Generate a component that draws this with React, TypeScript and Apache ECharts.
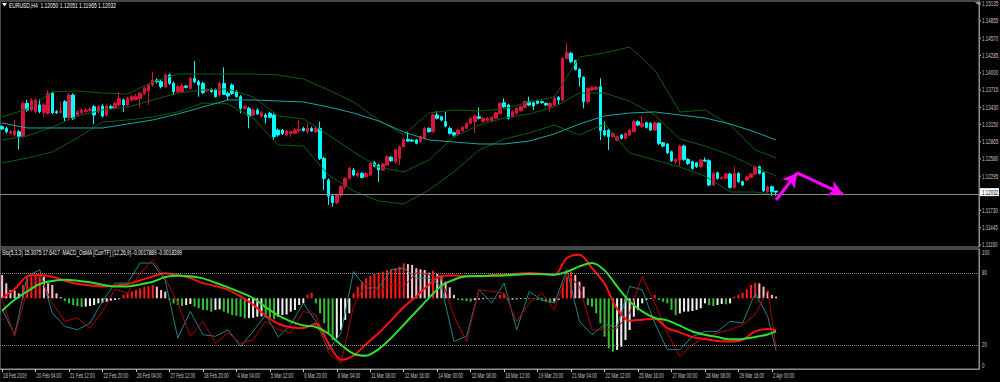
import React, { useEffect, useRef } from 'react';
import * as echarts from 'echarts';

// ---------- DATA ----------
// candles: [open, high, low, close], H4 bars from 18 Feb 2019
const ohlc: number[][] = [
  [1.13111, 1.13138, 1.13056, 1.13072], [1.13083, 1.13111, 1.13001, 1.13028], [1.13001, 1.13056, 1.12990, 1.13028],
  [1.12974, 1.13221, 1.12946, 1.13045], [1.13028, 1.13056, 1.12737, 1.12946], [1.12946, 1.13524, 1.12930, 1.13496],
  [1.13496, 1.13551, 1.13360, 1.13386], [1.13386, 1.13578, 1.13360, 1.13551], [1.13360, 1.13578, 1.13331, 1.13551],
  [1.13469, 1.13562, 1.13331, 1.13360], [1.13342, 1.13497, 1.13276, 1.13469], [1.13331, 1.13716, 1.13310, 1.13661],
  [1.13661, 1.13690, 1.13320, 1.13342], [1.13358, 1.13386, 1.13320, 1.13342], [1.13347, 1.13524, 1.13331, 1.13369],
  [1.13524, 1.13551, 1.13194, 1.13265], [1.13265, 1.13661, 1.13221, 1.13634], [1.13634, 1.13661, 1.13221, 1.13249],
  [1.13303, 1.13386, 1.13276, 1.13358], [1.13342, 1.13414, 1.13320, 1.13386], [1.13358, 1.13414, 1.13347, 1.13386],
  [1.13375, 1.13430, 1.13360, 1.13397], [1.13441, 1.13469, 1.13155, 1.13303], [1.13358, 1.13469, 1.13331, 1.13441],
  [1.13452, 1.13480, 1.13265, 1.13287], [1.13303, 1.13480, 1.13276, 1.13452], [1.13441, 1.13469, 1.13397, 1.13414],
  [1.13414, 1.13524, 1.13397, 1.13496], [1.13469, 1.13689, 1.13441, 1.13578], [1.13551, 1.13578, 1.13358, 1.13469],
  [1.13469, 1.13606, 1.13441, 1.13578], [1.13551, 1.13634, 1.13524, 1.13606], [1.13562, 1.13650, 1.13541, 1.13606],
  [1.13578, 1.13689, 1.13441, 1.13661], [1.13661, 1.13771, 1.13634, 1.13744], [1.13705, 1.13826, 1.13469, 1.13799],
  [1.13799, 1.14018, 1.13771, 1.13881], [1.13881, 1.13908, 1.13826, 1.13854], [1.13854, 1.13881, 1.13744, 1.13771],
  [1.13771, 1.13991, 1.13744, 1.13964], [1.13964, 1.13991, 1.13799, 1.13826], [1.13826, 1.13854, 1.13634, 1.13689],
  [1.13689, 1.13799, 1.13661, 1.13771], [1.13689, 1.13826, 1.13661, 1.13782], [1.13782, 1.13799, 1.13744, 1.13760],
  [1.13744, 1.13936, 1.13716, 1.13908], [1.13908, 1.14195, 1.13826, 1.13854], [1.13854, 1.13881, 1.13606, 1.13799],
  [1.13826, 1.13854, 1.13650, 1.13672], [1.13705, 1.13744, 1.13689, 1.13727], [1.13727, 1.13744, 1.13672, 1.13689],
  [1.13716, 1.13744, 1.13590, 1.13606], [1.13634, 1.13854, 1.13606, 1.13826], [1.13826, 1.14090, 1.13634, 1.13645],
  [1.13661, 1.13689, 1.13551, 1.13617], [1.13799, 1.13826, 1.13634, 1.13661], [1.13689, 1.13716, 1.13590, 1.13606],
  [1.13606, 1.13634, 1.13331, 1.13414], [1.13414, 1.13469, 1.13397, 1.13441], [1.13414, 1.13441, 1.13083, 1.13287],
  [1.13303, 1.13414, 1.13287, 1.13386], [1.13386, 1.13414, 1.13303, 1.13320], [1.13287, 1.13369, 1.13265, 1.13342],
  [1.13303, 1.13331, 1.13166, 1.13265], [1.13331, 1.13358, 1.13249, 1.13265], [1.13303, 1.13331, 1.12891, 1.12946],
  [1.13056, 1.13083, 1.12946, 1.12974], [1.13056, 1.13072, 1.12974, 1.13001], [1.12974, 1.13056, 1.12946, 1.13039],
  [1.13001, 1.13045, 1.12946, 1.13028], [1.13001, 1.13083, 1.12990, 1.13056], [1.13045, 1.13221, 1.13028, 1.13067],
  [1.13083, 1.13111, 1.13028, 1.13045], [1.13028, 1.13166, 1.13001, 1.13083], [1.13083, 1.13111, 1.13028, 1.13039],
  [1.13028, 1.13111, 1.13001, 1.13083], [1.13083, 1.13194, 1.12561, 1.12588], [1.12588, 1.12616, 1.12066, 1.12259],
  [1.12231, 1.12259, 1.11820, 1.11967], [1.11967, 1.11990, 1.11791, 1.11857], [1.11857, 1.12010, 1.11830, 1.11984],
  [1.11984, 1.12150, 1.11940, 1.12121], [1.12121, 1.12280, 1.12080, 1.12258], [1.12258, 1.12451, 1.12240, 1.12423],
  [1.12396, 1.12430, 1.12290, 1.12313], [1.12300, 1.12370, 1.12286, 1.12341], [1.12341, 1.12360, 1.12258, 1.12275],
  [1.12286, 1.12360, 1.12270, 1.12341], [1.12313, 1.12534, 1.12300, 1.12506], [1.12517, 1.12545, 1.12440, 1.12462],
  [1.12479, 1.12500, 1.12203, 1.12396], [1.12396, 1.12517, 1.12380, 1.12495], [1.12479, 1.12640, 1.12460, 1.12616],
  [1.12605, 1.12630, 1.12530, 1.12550], [1.12534, 1.12750, 1.12510, 1.12726], [1.12589, 1.12800, 1.12479, 1.12781],
  [1.12781, 1.12930, 1.12760, 1.12902], [1.12902, 1.13029, 1.12860, 1.12874], [1.12891, 1.12910, 1.12860, 1.12874],
  [1.12891, 1.12910, 1.12820, 1.12836], [1.12863, 1.12965, 1.12840, 1.12946], [1.12919, 1.13110, 1.12900, 1.13084],
  [1.13084, 1.13100, 1.13010, 1.13029], [1.13029, 1.13330, 1.13010, 1.13304], [1.13304, 1.13370, 1.13230, 1.13249],
  [1.13276, 1.13290, 1.13200, 1.13221], [1.13194, 1.13359, 1.13100, 1.13122], [1.13084, 1.13111, 1.12980, 1.13001],
  [1.13012, 1.13030, 1.12950, 1.12974], [1.12990, 1.13080, 1.12970, 1.13056], [1.13045, 1.13120, 1.13030, 1.13100],
  [1.13084, 1.13190, 1.13070, 1.13166], [1.13166, 1.13270, 1.13150, 1.13249], [1.13194, 1.13310, 1.13001, 1.13287],
  [1.13276, 1.13425, 1.13230, 1.13249], [1.13194, 1.13270, 1.13180, 1.13249], [1.13210, 1.13265, 1.13195, 1.13249],
  [1.13210, 1.13285, 1.13195, 1.13265], [1.13249, 1.13360, 1.13230, 1.13342], [1.13331, 1.13515, 1.13310, 1.13496],
  [1.13507, 1.13579, 1.13420, 1.13441], [1.13469, 1.13490, 1.13230, 1.13249], [1.13276, 1.13380, 1.13260, 1.13359],
  [1.13331, 1.13430, 1.13310, 1.13414], [1.13375, 1.13460, 1.13360, 1.13441], [1.13430, 1.13545, 1.13415, 1.13524],
  [1.13524, 1.13606, 1.13450, 1.13469], [1.13507, 1.13525, 1.13386, 1.13452], [1.13535, 1.13555, 1.13480, 1.13496],
  [1.13524, 1.13540, 1.13490, 1.13507], [1.13496, 1.13515, 1.13450, 1.13469], [1.13441, 1.13515, 1.13359, 1.13496],
  [1.13469, 1.13600, 1.13450, 1.13579], [1.13595, 1.13615, 1.13469, 1.13551], [1.13551, 1.14260, 1.13530, 1.14239],
  [1.14239, 1.14486, 1.14220, 1.14332], [1.14321, 1.14345, 1.14160, 1.14184], [1.14200, 1.14215, 1.14040, 1.14057],
  [1.14057, 1.14075, 1.13771, 1.13925], [1.13925, 1.13940, 1.13414, 1.13524], [1.13524, 1.13765, 1.13500, 1.13744],
  [1.13716, 1.13780, 1.13700, 1.13755], [1.13727, 1.13780, 1.13710, 1.13760], [1.13771, 1.13909, 1.12891, 1.13045],
  [1.13045, 1.13200, 1.12950, 1.12974], [1.13056, 1.13080, 1.12726, 1.12946], [1.12946, 1.13020, 1.12930, 1.13001],
  [1.12891, 1.12965, 1.12870, 1.12946], [1.12974, 1.12990, 1.12900, 1.12919], [1.12919, 1.13020, 1.12900, 1.13001],
  [1.12974, 1.13075, 1.12960, 1.13056], [1.13029, 1.13215, 1.13010, 1.13194], [1.13194, 1.13215, 1.13120, 1.13139],
  [1.13111, 1.13287, 1.13095, 1.13166], [1.13177, 1.13195, 1.13080, 1.13100], [1.13166, 1.13185, 1.13040, 1.13056],
  [1.13056, 1.13195, 1.13040, 1.13177], [1.13166, 1.13185, 1.12808, 1.12836], [1.12847, 1.12860, 1.12770, 1.12792],
  [1.12825, 1.12840, 1.12660, 1.12682], [1.12699, 1.12715, 1.12530, 1.12550], [1.12534, 1.12590, 1.12500, 1.12572],
  [1.12561, 1.12815, 1.12462, 1.12792], [1.12792, 1.12815, 1.12550, 1.12572], [1.12572, 1.12590, 1.12480, 1.12506],
  [1.12534, 1.12550, 1.12400, 1.12423], [1.12517, 1.12530, 1.12430, 1.12451], [1.12451, 1.12580, 1.12430, 1.12561],
  [1.12561, 1.12605, 1.12530, 1.12545], [1.12550, 1.12570, 1.12130, 1.12149], [1.12149, 1.12360, 1.12130, 1.12341],
  [1.12352, 1.12370, 1.12240, 1.12258], [1.12258, 1.12290, 1.12240, 1.12275], [1.12258, 1.12350, 1.12240, 1.12330],
  [1.12330, 1.12350, 1.12090, 1.12110], [1.12110, 1.12451, 1.12090, 1.12341], [1.12341, 1.12360, 1.12185, 1.12203],
  [1.12203, 1.12220, 1.12130, 1.12149], [1.12231, 1.12300, 1.12210, 1.12286], [1.12275, 1.12350, 1.12260, 1.12330],
  [1.12330, 1.12470, 1.12315, 1.12451], [1.12451, 1.12470, 1.12325, 1.12341], [1.12352, 1.12370, 1.12035, 1.12055],
  [1.12038, 1.12140, 1.12020, 1.12121], [1.12121, 1.12140, 1.11967, 1.12038], [1.12050, 1.12051, 1.11965, 1.12032],
];

const timeLabels = [
  '18 Feb 2019', '20 Feb 04:00', '21 Feb 12:00', '22 Feb 20:00', '26 Feb 04:00', '27 Feb 12:00',
  '28 Feb 20:00', '4 Mar 04:00', '5 Mar 12:00', '6 Mar 20:00', '8 Mar 04:00', '11 Mar 08:00',
  '12 Mar 16:00', '14 Mar 00:00', '15 Mar 08:00', '18 Mar 12:00', '19 Mar 20:00', '21 Mar 04:00',
  '22 Mar 12:00', '25 Mar 16:00', '27 Mar 00:00', '28 Mar 08:00', '29 Mar 16:00', '2 Apr 00:00',
];
const LABEL_EVERY = 8;
const TOTAL_SLOTS = 234; // bars + empty right shift

const priceTicks = [
  '1.15135', '1.14855', '1.14570', '1.14285', '1.14000', '1.13715', '1.13430', '1.13150',
  '1.12865', '1.12580', '1.12295', '1.12010', '1.11730', '1.11445', '1.11160',
];
const lastPrice = '1.12032';
const priceMin = 1.11127;
const priceMax = 1.15184;
const oscTicks = [100, 80, 20, 0];

// overlays on price chart, one reading every 6 bars (last reading at final bar)
const LINE_STEP = 6;
const bbUpper = [1.13271, 1.13403, 1.13684, 1.13700, 1.13667, 1.13651, 1.13848, 1.13980, 1.13980, 1.13980, 1.13980,
  1.13964, 1.13898, 1.13717, 1.13519, 1.13222, 1.12974, 1.13337, 1.13387, 1.13370, 1.13403, 1.13519, 1.13601,
  1.14261, 1.14327, 1.14426, 1.14046, 1.13354, 1.13387, 1.13139, 1.12727, 1.12595];
const bbMiddle = [1.12892, 1.12958, 1.13106, 1.13288, 1.13387, 1.13436, 1.13552, 1.13667, 1.13717, 1.13733, 1.13601,
  1.13288, 1.13238, 1.12974, 1.12694, 1.12446, 1.12364, 1.12562, 1.12941, 1.13139, 1.13255, 1.13321, 1.13436,
  1.13667, 1.13667, 1.13535, 1.13304, 1.12908, 1.12793, 1.12644, 1.12446, 1.12298];
const bbLower = [1.12513, 1.12595, 1.12694, 1.12925, 1.13189, 1.13222, 1.13271, 1.13354, 1.13502, 1.13486, 1.13255,
  1.12809, 1.12793, 1.12315, 1.12051, 1.11886, 1.11836, 1.12067, 1.12364, 1.12727, 1.12908, 1.13007, 1.13139,
  1.12974, 1.13156, 1.12677, 1.12562, 1.12446, 1.12298, 1.12034, 1.12034, 1.11985];
const maLine = [1.13172, 1.13090, 1.13090, 1.13090, 1.13090, 1.13156, 1.13222, 1.13321, 1.13436, 1.13552, 1.13552,
  1.13535, 1.13519, 1.13436, 1.13337, 1.13205, 1.13024, 1.12892, 1.12859, 1.12826, 1.12826, 1.12875, 1.12991,
  1.13156, 1.13288, 1.13337, 1.13354, 1.13304, 1.13255, 1.13156, 1.13024, 1.12892];

// oscillator lines, one reading every 3 bars (last reading at final bar)
const OSC_STEP = 3;
const stochMain = [50, 28.6, 77.2, 82.7, 46.6, 35.5, 32.7, 38.3, 56.3, 71.6, 71.6, 88.3, 88.3, 73.8, 25.8, 48, 28.6,
  27.2, 32.7, 18.8, 31.3, 45.2, 26.6, 36.9, 55, 39.7, 16.1, 30, 81.3, 67.5, 67.5, 82.7, 84.1, 75.8, 75.8, 68.8, 23,
  27.2, 66, 55, 71.6, 32.7, 64.7, 57.7, 55, 82.7, 39.7, 28.6, 36.9, 35.5, 68.8, 66, 38.3, 16.1, 16.1, 27.2, 31.3,
  31.3, 39.7, 38.3, 63.3, 43.8, 15.3];
const stochSignal = [57.7, 27.2, 66, 77.2, 55, 39.7, 42.5, 34.1, 48, 66.6, 63.3, 80, 91, 75.8, 55, 27.2, 39.7, 21.6,
  30, 21.6, 24.4, 39.7, 32.7, 30, 48, 45.2, 13.3, 5, 52.2, 71.6, 64.7, 70.2, 68.8, 80, 78.6, 75.8, 43.8, 23, 66,
  64.7, 63.3, 39.7, 55, 63.3, 49.4, 80, 68.8, 32.7, 32.7, 34.1, 46.6, 77.2, 55, 30, 10.5, 20.2, 25.8, 30, 32.7,
  36.9, 45.2, 66, 17.6];
const macdLine = [59.1, 66.6, 77.2, 78.3, 76.9, 73.6, 71, 69.7, 68.8, 69.4, 70.8, 73.8, 77.2, 79.7, 78.3, 75.8, 71.6,
  69.1, 66, 60.5, 53.6, 44.4, 37.7, 34.7, 34.1, 37.7, 21.6, 7.7, 11.1, 20.8, 30, 40.5, 51.6, 60.5, 70.2, 77.7, 78,
  77.2, 77.2, 78.3, 78.6, 79.4, 80, 79.4, 78.3, 92.5, 95.2, 84.1, 71, 50, 40.2, 41.1, 41.9, 34.1, 30.5, 26.6, 25,
  23.3, 23, 24.4, 31.3, 33.3, 32.2];
const macdSignal = [48.6, 57.7, 64.7, 70.8, 73.3, 74.4, 73.6, 72.2, 70.2, 68.8, 68.8, 70.5, 72.7, 76.6, 77.7, 77.2,
  75.5, 71.9, 68, 63.8, 59.1, 51.6, 44.7, 39.7, 36.3, 35, 29.4, 20.2, 12.7, 11.1, 16.6, 25.8, 36.9, 48, 59.1, 69.4,
  74.4, 77.2, 77.5, 77.7, 78, 78.6, 79.1, 79.1, 78.6, 81.1, 85.5, 88.3, 82.2, 68.8, 56.3, 48, 42.5, 40.5, 36.1,
  31.3, 28.6, 26.6, 24.7, 25, 26.6, 28.8, 31.3];

// OsMA histogram, one value per bar (panel-relative units)
const osma = [19.4, 12.5, 6.9, 6.5, 4.2, 11.1, 16.7, 18.1, 19.4, 20.3, 18.1, 12.5, 11.1, 4.2, 1.0, -2.5, -4.2, -5.6,
  -6.4, -7.2, -6.9, -6.4, -5.6, -4.2, -3.6, -2.8, -1.9, -1.4, -0.8, 2.8, 4.2, 5.6, 6.9, 8.3, 9.7, 10.3, 11.1, 9.7,
  6.9, 5.6, -1.4, -4.2, -5.6, -6.4, -5.6, -4.7, -6.9, -8.3, -9.7, -10.0, -11.1, -9.7, -9.2, -11.1, -12.5, -13.9,
  -14.5, -15.3, -16.7, -16.5, -16.2, -15.3, -15.0, -16.0, -16.7, -17.5, -15.3, -13.9, -13.5, -11.1, -9.7, -5.6,
  -4.2, 2.8, 4.7, -4.2, -12.5, -20.8, -29.2, -34.7, -33.3, -26.4, -18, -12.5, 4.2, 9.7, 13.9, 16.7, 18.6, 20.3,
  21.4, 22.2, 23.6, 24.2, 25, 26.4, 29.2, 28.5, 27.8, 25, 24.2, 23.6, 21.4, 23.1, 20.3, 18.1, 13.9, 9.2, 2.8, -1.4,
  -1.9, -2.2, -2.8, -1.4, -1.0, -0.8, -0.6, -0.4, -0.2, 2.8, 4.2, -1.4, -1.0, -0.8, -0.6, -0.5, -0.4, -0.3, -1.4,
  -1.9, -2.8, -3.6, -2.8, -1.4, 12.5, 18.1, 22.2, 19.4, 13.9, 9.7, -5.6, -6.9, -12.5, -20.8, -31.9, -41.7, -44.4,
  -43.0, -40.3, -34.7, -26.4, -15.3, -9.7, -4.2, -1.4, -0.6, 2.8, -1.4, -2.8, -4.2, -9.7, -13.9, -12.5, -11.1,
  -11.0, -10.6, -9.7, -8.3, -4.2, -5.6, -6.4, -5.6, -4.7, -5.0, -4.2, 1.4, 2.8, 4.7, 7.5, 11.1, 13.1, 12.5, 9.7,
  5.6, 2.8, 1.4];
const stochLevels = [80, 20];

// hand-drawn forecast arrows: [bar index, price]
const arrowPath = [[185, 1.11902], [190, 1.12348], [201, 1.11999]];

const mainTitle = 'EURUSD,H4  1.12050 1.12051 1.11965 1.12032';
const subTitle = 'Sto(5,3,3) 15.3075 17.6417  MACD_OsMA [CurrTF] (12,26,9) -0.0017889 -0.0018399';

// ---------- CHART ----------
const FONT_FAMILY = '"Liberation Sans", Arial, sans-serif';
const AXIS_TXT = '#c8c8c8';
const FRAME = '#8f8f8f';

function sampled(values: number[], step: number, lastIndex: number) {
  return values.map((v, k) => [Math.min(k * step, lastIndex), v]);
}

function txt(text: string, x: number, y: number, size: number, sx: number, color: string, extra: any = {}) {
  return {
    type: 'text', x, y, scaleX: sx, silent: true, z: 100,
    style: {
      text, fill: color, font: `${size}px ${FONT_FAMILY}`,
      align: 'left', verticalAlign: 'middle', textAlign: 'left', textVerticalAlign: 'middle', ...extra,
    },
  };
}

export default function App() {
  const ref = useRef<HTMLDivElement>(null);
  useEffect(() => {
    if (!ref.current) return;
    document.body.style.margin = '0';
    document.body.style.background = '#000';
    const chart = echarts.init(ref.current, undefined, { renderer: 'svg' });
    const lastIdx = ohlc.length - 1;
    const cats = Array.from({ length: TOTAL_SLOTS }, (_, i) => String(i));
    const isLabelSlot = (i: number) => i % LABEL_EVERY === 0 && i / LABEL_EVERY < timeLabels.length;

    const osmaItems = osma.map((v, i) => {
      const prev = i > 0 ? osma[i - 1] : v;
      let color: string;
      if (v >= 0) color = v > prev ? '#ff1a1a' : '#ffc0cb';
      else color = v < prev ? '#35c035' : '#f2f2f2';
      return { value: v, itemStyle: { color } };
    });

    const lastNum = parseFloat(lastPrice);

    const arrowSegs = arrowPath.slice(1).map((p, k) => [
      { coord: [arrowPath[k][0], arrowPath[k][1]] },
      { coord: [p[0], p[1]] },
    ]);

    const lineS = (name: string, data: any[], color: string, width: number, xi: number, yi: number, extra: any = {}) => ({
      name, type: 'line', data, xAxisIndex: xi, yAxisIndex: yi, showSymbol: false, symbol: 'none',
      lineStyle: { color, width }, silent: true, ...extra,
    });

    const option: any = {
      animation: false,
      backgroundColor: '#000000',
      textStyle: { fontFamily: FONT_FAMILY },
      grid: [
        { left: 0, right: 21, top: 1, height: 246, show: true, borderColor: FRAME, borderWidth: 1, backgroundColor: 'transparent' },
        { left: 0, right: 21, top: 249, height: 120, show: true, borderColor: FRAME, borderWidth: 1, backgroundColor: 'transparent' },
      ],
      xAxis: [
        { type: 'category', data: cats, gridIndex: 0, boundaryGap: true, axisLine: { show: false }, axisTick: { show: false }, axisLabel: { show: false }, splitLine: { show: false } },
        {
          type: 'category', data: cats, gridIndex: 1, boundaryGap: true,
          axisLine: { show: true, lineStyle: { color: FRAME } },
          axisTick: { show: true, alignWithLabel: true, length: 3, interval: (i: number) => isLabelSlot(i), lineStyle: { color: AXIS_TXT } },
          axisLabel: { show: false, interval: (i: number) => isLabelSlot(i) },
          splitLine: { show: false },
        },
      ],
      yAxis: [
        { type: 'value', gridIndex: 0, position: 'right', min: priceMin, max: priceMax, axisLine: { show: true, lineStyle: { color: FRAME } }, axisTick: { show: false }, axisLabel: { show: false }, splitLine: { show: false } },
        { type: 'value', gridIndex: 1, position: 'right', min: 0, max: 100, interval: 20, axisLine: { show: true, lineStyle: { color: FRAME } }, axisTick: { show: false }, axisLabel: { show: false }, splitLine: { show: false } },
        { type: 'value', gridIndex: 1, min: -58.9, max: 41.1, show: false, splitLine: { show: false } },
      ],
      series: [
        lineS('BB upper', sampled(bbUpper, LINE_STEP, lastIdx), '#0b5e0b', 1, 0, 0),
        lineS('BB middle', sampled(bbMiddle, LINE_STEP, lastIdx), '#0b5e0b', 1, 0, 0),
        lineS('BB lower', sampled(bbLower, LINE_STEP, lastIdx), '#0b5e0b', 1, 0, 0),
        lineS('MA', sampled(maLine, LINE_STEP, lastIdx), '#1fa3a3', 1, 0, 0, {
          markLine: {
            silent: true, symbol: ['none', 'none'], animation: false, label: { show: false },
            lineStyle: { color: '#8a8a8a', width: 1, type: 'solid' },
            data: [{ yAxis: lastNum }],
          },
        }),
        {
          name: 'EURUSD', type: 'candlestick', xAxisIndex: 0, yAxisIndex: 0, barWidth: 3, silent: true,
          data: ohlc.map(([o, h, l, c]) => [o, c, l, h]),
          itemStyle: { color: '#dc143c', color0: '#00ffff', borderColor: '#dc143c', borderColor0: '#00ffff', borderWidth: 1 },
          markLine: {
            silent: true, symbol: ['none', 'arrow'], symbolSize: [12, 14], animation: false,
            lineStyle: { color: '#ff00ff', width: 3, type: 'solid' },
            label: { show: false },
            data: arrowSegs,
          },
        },
        { name: 'OsMA', type: 'bar', xAxisIndex: 1, yAxisIndex: 2, barWidth: 2, silent: true, data: osmaItems },
        lineS('Stoch', sampled(stochMain, OSC_STEP, lastIdx), '#1c8585', 1, 1, 1, {
          markLine: {
            silent: true, symbol: ['none', 'none'], animation: false, label: { show: false },
            lineStyle: { color: '#8c8c8c', type: 'dotted', width: 1 },
            data: stochLevels.map((v) => ({ yAxis: v })),
          },
        }),
        lineS('Signal', sampled(stochSignal, OSC_STEP, lastIdx), '#b00000', 1, 1, 1),
        lineS('MACD', sampled(macdLine, OSC_STEP, lastIdx), '#ff1010', 2, 1, 1, { smooth: 0.3 }),
        lineS('MACD signal', sampled(macdSignal, OSC_STEP, lastIdx), '#2ee02e', 2, 1, 1, { smooth: 0.3 }),
      ],
    };
    chart.setOption(option);

    // texts placed through the chart's own axes (condensed, like the terminal font)
    const g: any[] = [
      { type: 'polygon', shape: { points: [[2, 3], [7, 3], [4.5, 6.5]] }, style: { fill: '#ffffff' }, silent: true },
      { type: 'polygon', shape: { points: [[975, 2], [981, 2], [978, 5]] }, style: { fill: '#9a9a9a' }, silent: true },
      txt(mainTitle, 9, 5.5, 7, 0.71, '#ffffff'),
      txt(subTitle, 2, 252.5, 7, 0.68, '#ffffff'),
    ];
    const axisX = 982;
    priceTicks.forEach((t) => {
      const v = parseFloat(t);
      if (Math.abs(v - lastNum) < 0.0006) return;
      const y = chart.convertToPixel({ yAxisIndex: 0 }, v) as number;
      g.push({ type: 'line', shape: { x1: 979, y1: y, x2: 981, y2: y }, style: { stroke: AXIS_TXT, lineWidth: 1 }, silent: true });
      g.push(txt(t, axisX, y, 7, 0.64, AXIS_TXT));
    });
    const yLast = chart.convertToPixel({ yAxisIndex: 0 }, lastNum) as number;
    g.push({ type: 'rect', shape: { x: 980, y: yLast - 4, width: 19, height: 8 }, style: { fill: '#ffffff' }, silent: true, z: 99 });
    g.push(txt(lastPrice, axisX, yLast, 7, 0.64, '#000000'));
    oscTicks.forEach((v) => {
      let y = chart.convertToPixel({ yAxisIndex: 1 }, v) as number;
      if (v === 100) y += 3.5;
      if (v === 0) y -= 3.5;
      g.push(txt(String(v), axisX, y, 7, 0.64, AXIS_TXT));
    });
    timeLabels.forEach((t, k) => {
      const x = chart.convertToPixel({ xAxisIndex: 1 }, k * LABEL_EVERY) as number;
      g.push(txt(t, x + 1, 375.5, 7, 0.6, AXIS_TXT));
    });
    chart.setOption({ graphic: g });
    return () => chart.dispose();
  }, []);
  return (
    <div
      ref={ref}
      style={{ position: 'fixed', left: 0, top: 0, width: 1000, height: 382, background: '#000' }}
    />
  );
}
